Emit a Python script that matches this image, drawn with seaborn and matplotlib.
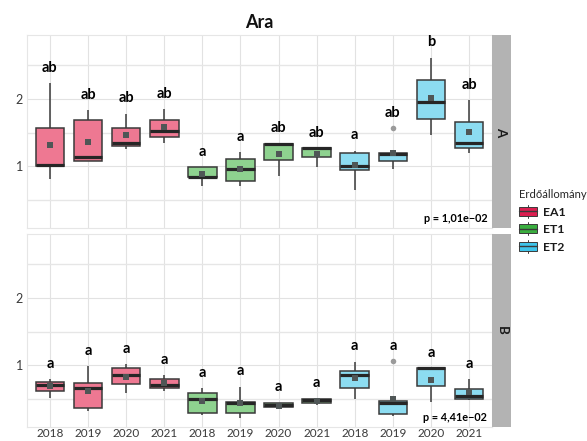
import numpy as np
import pandas as pd
import seaborn as sns
import matplotlib
matplotlib.use("Agg")
import matplotlib.pyplot as plt
from matplotlib.legend_handler import HandlerBase
from matplotlib.patches import Rectangle, Patch
from matplotlib.lines import Line2D

# ---------------- data ----------------
years = ["2018", "2019", "2020", "2021"]
stands = ["EA1", "ET1", "ET2"]
panels = ["A", "B"]

# panel A : lower whisker, Q1, median, Q3, upper whisker, mean
a_low = [0.81, 1.07, 1.25, 1.35, 0.71, 0.71, 0.86, 0.99, 0.65, 0.95, 1.46, 1.20]
a_q1 = [1.00, 1.07, 1.30, 1.44, 0.84, 0.78, 1.09, 1.13, 0.94, 1.08, 1.70, 1.27]
a_med = [1.01, 1.14, 1.34, 1.52, 0.84, 0.96, 1.33, 1.27, 1.00, 1.18, 1.95, 1.34]
a_q3 = [1.56, 1.68, 1.56, 1.69, 0.98, 1.11, 1.33, 1.27, 1.20, 1.20, 2.28, 1.66]
a_high = [2.23, 1.83, 1.78, 1.85, 0.98, 1.21, 1.33, 1.27, 1.23, 1.22, 2.61, 1.98]
a_mean = [1.32, 1.36, 1.46, 1.58, 0.88, 0.96, 1.18, 1.18, 1.02, 1.20, 2.01, 1.51]
a_outlier = [None, None, None, None, None, None, None, None, None, 1.56, None, None]
a_letters = ["ab", "ab", "ab", "ab", "a", "a", "ab", "ab", "a", "ab", "b", "ab"]
a_p = "p = 1,01e\u221202"

# panel B
b_low = [0.51, 0.32, 0.59, 0.62, 0.26, 0.22, 0.35, 0.41, 0.50, 0.24, 0.45, 0.48]
b_q1 = [0.61, 0.36, 0.72, 0.66, 0.29, 0.29, 0.38, 0.44, 0.66, 0.28, 0.69, 0.50]
b_med = [0.70, 0.66, 0.86, 0.71, 0.50, 0.44, 0.40, 0.48, 0.86, 0.43, 0.95, 0.54]
b_q3 = [0.75, 0.74, 0.95, 0.79, 0.58, 0.45, 0.43, 0.50, 0.91, 0.47, 0.95, 0.65]
b_high = [0.79, 0.98, 1.01, 0.85, 0.66, 0.68, 0.44, 0.51, 1.05, 0.51, 0.95, 0.79]
b_mean = [0.69, 0.61, 0.82, 0.74, 0.47, 0.43, 0.39, 0.47, 0.81, 0.50, 0.78, 0.60]
b_outlier = [None, None, None, None, None, None, None, None, None, 1.06, None, None]
b_letters = ["a"] * 12
b_p = "p = 4,41e\u221202"

# ---------------- styling ----------------
key_colors = {"EA1": "#DC1E50", "ET1": "#3AAE3F", "ET2": "#3EC4EA"}
fill_colors = {"EA1": "#EE7892", "ET1": "#8ED28F", "ET2": "#8CDCF1"}
edge = "#3a3a3a"

sns.set_theme(style="white")
plt.rcParams["font.family"] = ["Lato", "DejaVu Sans"]

W, H = 587, 441
fig = plt.figure(figsize=(W / 100, H / 100), dpi=100)

keys = [f"{s} {y}" for s in stands for y in years]
key_stand = [s for s in stands for y in years]
key_year = [y for s in stands for y in years]


def build(low, q1, med, q3, high):
    rows = []
    for k, s, lo, a, m, b, hi in zip(keys, key_stand, low, q1, med, q3, high):
        for v in (lo, a, m, b, hi):
            rows.append({"key": k, "stand": s, "val": v})
    return pd.DataFrame(rows)


panel_data = {
    "A": dict(low=a_low, q1=a_q1, med=a_med, q3=a_q3, high=a_high, mean=a_mean,
              out=a_outlier, letters=a_letters, p=a_p),
    "B": dict(low=b_low, q1=b_q1, med=b_med, q3=b_q3, high=b_high, mean=b_mean,
              out=b_outlier, letters=b_letters, p=b_p),
}

left, right = 27 / W, 492 / W
ph = 193 / H
bottoms = {"A": 1 - 228 / H, "B": 1 - 427 / H}

for name in panels:
    d = panel_data[name]
    ax = fig.add_axes([left, bottoms[name], right - left, ph])
    df = build(d["low"], d["q1"], d["med"], d["q3"], d["high"])
    sns.boxplot(data=df, x="key", y="val", hue="stand", order=keys, hue_order=stands,
                palette=fill_colors, dodge=False, width=0.75, whis=(0, 100),
                showfliers=False, showcaps=False, saturation=1, linecolor=edge,
                linewidth=1.1, medianprops=dict(linewidth=2.3, color="#262626"),
                legend=False, ax=ax, zorder=3)
    mdf = pd.DataFrame({"key": keys, "mean": d["mean"]})
    sns.stripplot(data=mdf, x="key", y="mean", order=keys, jitter=False,
                  marker="s", color="#4f5656", size=4.2, linewidth=0, ax=ax, zorder=5)
    odf = pd.DataFrame({"key": [k for k, o in zip(keys, d["out"]) if o is not None],
                        "out": [o for o in d["out"] if o is not None]})
    sns.stripplot(data=odf, x="key", y="out", order=keys, jitter=False,
                  marker="o", color="#9a9a9a", size=4, linewidth=0, ax=ax, zorder=5)

    # letters
    tops = [max(h, o if o is not None else -1) for h, o in zip(d["high"], d["out"])]
    for i, (t, lab) in enumerate(zip(tops, d["letters"])):
        ax.text(i, t + 0.23, lab, ha="center", va="center", fontsize=10.5,
                fontweight="bold", color="black", zorder=6)
    ax.text(0.99, 0.05, d["p"], transform=ax.transAxes, ha="right", va="center",
            fontsize=7.8, fontweight="bold", color="black")

    ax.set_xlim(-0.6, 11.6)
    ax.set_ylim(0.08, 2.95)
    ax.set_yticks([1, 2])
    ax.set_yticks([0.5, 1.5, 2.5], minor=True)
    ax.set_yticklabels(["1", "2"])
    ax.grid(which="major", color="#e2e2e2", linewidth=0.8, zorder=0)
    ax.grid(which="minor", axis="y", color="#e6e6e6", linewidth=1.0, zorder=0)
    ax.set_axisbelow(True)
    ax.set_xlabel("")
    ax.set_ylabel("")
    ax.tick_params(axis="y", length=0, labelsize=9, colors="#3a3a3a", pad=3)
    ax.tick_params(axis="x", length=0, labelsize=8.5, colors="#3a3a3a", pad=1)
    for sp in ax.spines.values():
        sp.set_color("#e6e6e6")
        sp.set_linewidth(0.8)
    if name == "A":
        ax.set_xticklabels([])
    else:
        ax.set_xticks(range(len(keys)))
        ax.set_xticklabels(key_year)

    # facet strip
    sax = fig.add_axes([right, bottoms[name], 19 / W, ph])
    sax.set_facecolor("#b3b3b3")
    sax.set_xticks([])
    sax.set_yticks([])
    for sp in sax.spines.values():
        sp.set_visible(False)
    sax.text(0.5, 0.5, name, rotation=270, ha="center", va="center",
             fontsize=9.5, fontweight="bold", color="#1a1a1a", transform=sax.transAxes)

fig.text((left + right) / 2, 1 - 22 / H, "Ara", ha="center", va="center",
         fontsize=13, fontweight="bold", color="#111111")


class BoxHandler(HandlerBase):
    def create_artists(self, legend, orig_handle, xdescent, ydescent, width, height,
                       fontsize, trans):
        c = orig_handle.get_facecolor()
        x0, y0 = -xdescent, -ydescent
        rect = Rectangle((x0, y0 + height * 0.12), width, height * 0.76, facecolor=c,
                         edgecolor=edge, linewidth=0.7, transform=trans)
        med = Line2D([x0, x0 + width], [y0 + height * 0.5] * 2, color=edge,
                     linewidth=1.0, transform=trans)
        w1 = Line2D([x0 + width / 2] * 2, [y0 + height * 0.88, y0 + height * 1.05],
                    color=edge, linewidth=0.7, transform=trans)
        w2 = Line2D([x0 + width / 2] * 2, [y0 - height * 0.05, y0 + height * 0.12],
                    color=edge, linewidth=0.7, transform=trans)
        return [rect, med, w1, w2]


handles = [Patch(facecolor=key_colors[s]) for s in stands]
leg = fig.legend(handles, stands, title="Erd\u0151\u00e1llom\u00e1ny", loc="upper left",
                 bbox_to_anchor=(519 / W, 1 - 189 / H), frameon=False,
                 handler_map={Patch: BoxHandler()}, handlelength=1.5, handleheight=1.1,
                 labelspacing=0.45, handletextpad=0.5, borderpad=0, borderaxespad=0,
                 alignment="left", fontsize=8.8, title_fontsize=8.1)
for t in leg.get_texts():
    t.set_fontweight("bold")
    t.set_color("#1a1a1a")

fig.savefig("out.png", dpi=100)
